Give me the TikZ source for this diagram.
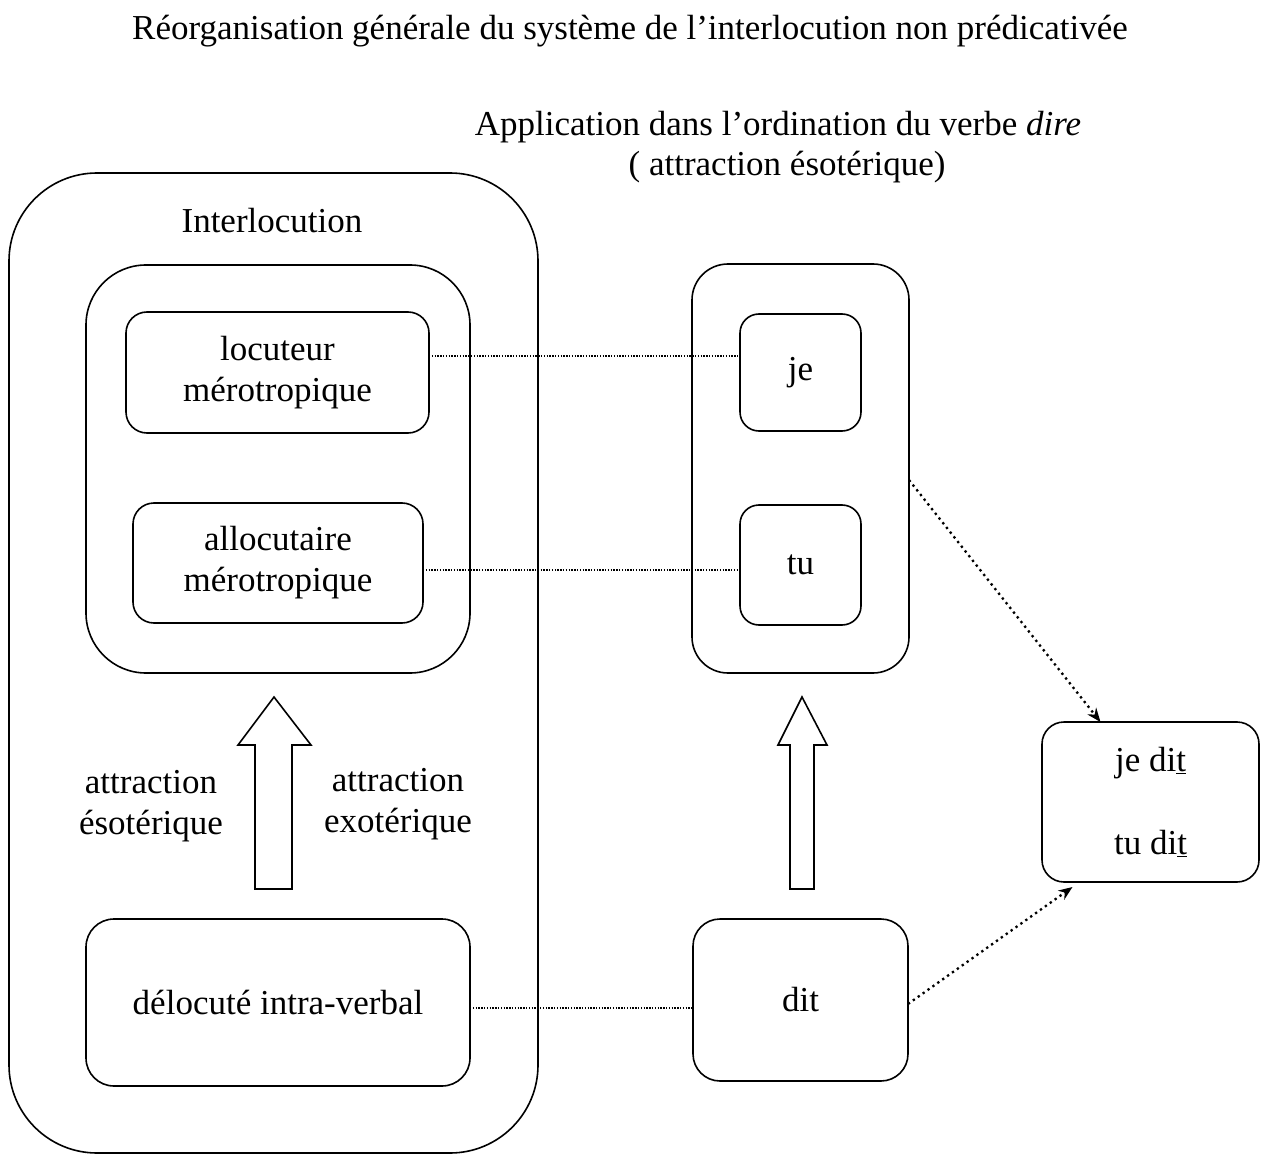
\documentclass[tikz,border=0pt]{standalone}
\usepackage{fontspec}
\setmainfont{Liberation Serif}
\usetikzlibrary{arrows.meta,calc}
\begin{document}
\begin{tikzpicture}[x=1pt,y=-1pt,
  every node/.style={font=\fontsize{35}{41}\selectfont, inner sep=0pt, outer sep=0pt},
  box/.style={draw, line width=1.6pt, rounded corners=#1},
  box/.default=22pt,
  fineline/.style={line width=1.2pt, dash pattern=on 1.3pt off 1.5pt},
  dotarrow/.style={line width=2.3pt, dash pattern=on 2.3pt off 3.7pt, -{Stealth[length=14pt,width=11pt]}},
  blockarrow/.style={draw, line width=1.6pt, fill=white, line join=miter},
  lbl/.style={align=center}
]
\useasboundingbox (0,0) rectangle (1263,1155);

% titles
\node[anchor=base] (title) at (630,40) {Réorganisation générale du système de l’interlocution non prédicativée};
\node[anchor=base] (sub1) at (778,136) {Application dans l’ordination du verbe \textit{dire}};
\node[anchor=base] (sub2) at (787,176) {( attraction ésotérique)};

% left column
\draw[box=88pt] (9,173) rectangle (538,1153);
\node[anchor=base] (interl) at (272,233) {Interlocution};
\draw[box=60pt] (86,265) rectangle (470,673);
\node[box=21pt, lbl, minimum width=303pt, minimum height=121pt] (loc) at (277.5,372.5) {locuteur\\mérotropique};
\node[box=21pt, lbl, minimum width=290pt, minimum height=120pt] (alloc) at (278,563) {allocutaire\\mérotropique};
\node[box=28pt, lbl, minimum width=384pt, minimum height=167pt] (deloc) at (278,1002.5) {délocuté intra-verbal};

\draw[blockarrow] (255,889) -- (255,745) -- (238,745) -- (274,697) -- (311,745) -- (292,745) -- (292,889) -- cycle;
\node[lbl] (esot) at (151,806) {attraction\\ésotérique};
\node[lbl] (exot) at (398,804) {attraction\\exotérique};

% middle column
\node[box=36pt, minimum width=217pt, minimum height=409pt] (mid) at (800.5,468.5) {};
\node[box=19pt, minimum width=121pt, minimum height=117pt] (je) at (800.5,372.5) {je};
\node[box=19pt, minimum width=121pt, minimum height=120pt] (tu) at (800.5,565) {tu};
\node[box=27pt, minimum width=215pt, minimum height=162pt] (dit) at (800.5,1000) {dit};
\draw[blockarrow] (790,889) -- (790,745) -- (778,745) -- (802,697) -- (827,745) -- (814,745) -- (814,889) -- cycle;

% right box
\node[box=22pt, lbl, minimum width=217pt, minimum height=160pt] (res) at (1150.5,802) {je di\underline{t}\\[42pt]tu di\underline{t}};

% connectors
\draw[fineline] ([yshift=16.5pt]loc.east) -- ([yshift=16.5pt]loc.east -| je.west);
\draw[fineline] ([yshift=-7pt]alloc.east) -- ([yshift=-7pt]alloc.east -| tu.west);
\draw[fineline] ([yshift=-5.5pt]deloc.east) -- ([yshift=-5.5pt]deloc.east -| dit.west);
\draw[dotarrow] ([yshift=-11.5pt]mid.east) -- ([xshift=-50pt]res.north);
\draw[dotarrow] ([yshift=-4pt]dit.east) -- ([xshift=-78pt,yshift=-5pt]res.south);
\end{tikzpicture}
\end{document}
